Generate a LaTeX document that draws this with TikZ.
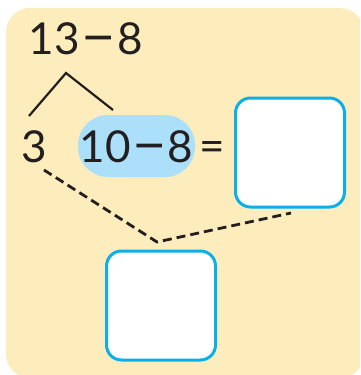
\documentclass[tikz,border=0pt]{standalone}
\usepackage{fontspec}
\setmainfont{Lato}
\definecolor{bgy}{RGB}{253,237,188}
\definecolor{pillc}{RGB}{172,224,250}
\definecolor{boxb}{RGB}{10,175,235}
\definecolor{ink}{RGB}{35,31,32}
\newcommand{\mdash}{\kern1.5pt\raisebox{-2.5pt}{\scalebox{1.35}[1.25]{−}}\kern1.5pt}
\begin{document}
\begin{tikzpicture}[x=1pt,y=-1pt,
  numtxt/.style={font=\fontsize{44}{50}\selectfont, text=ink, inner sep=0pt, anchor=center},
  answerbox/.style={draw=boxb, line width=3pt, fill=white, rounded corners=15pt, minimum width=109pt, minimum height=109pt, inner sep=0pt},
  treeline/.style={draw=ink, line width=2.2pt},
  dashline/.style={draw=ink, line width=2.8pt, dash pattern=on 9pt off 5pt}]
\clip (0,0) rectangle (360,375);
\fill[bgy, rounded corners=24pt] (6,8) rectangle (364,378);
\node[numtxt] (top) at (86,39.5) {13\mdash 8};
\coordinate (apex) at (66,73);
\coordinate (tl) at (29,116);
\coordinate (tr) at (113,110);
\draw[treeline] (tl) -- (apex) -- (tr);
\node[numtxt] (three) at (34,147) {3};
\node[numtxt, fill=pillc, rounded corners=30pt, minimum width=117pt, minimum height=62pt, text depth=0pt, text height=32pt] (pill) at (136.5,146) {10\mdash 8};
\node[numtxt] (eq) at (212,151) {=};
\node[answerbox] (box1) at (290,152.5) {};
\node[answerbox] (box2) at (161,305.5) {};
\coordinate (dstart) at (44,170);
\coordinate (dmid) at (157,242);
\coordinate (dend) at (291,213);
\draw[dashline] (dstart) -- (dmid) -- (dend);
\end{tikzpicture}
\end{document}
